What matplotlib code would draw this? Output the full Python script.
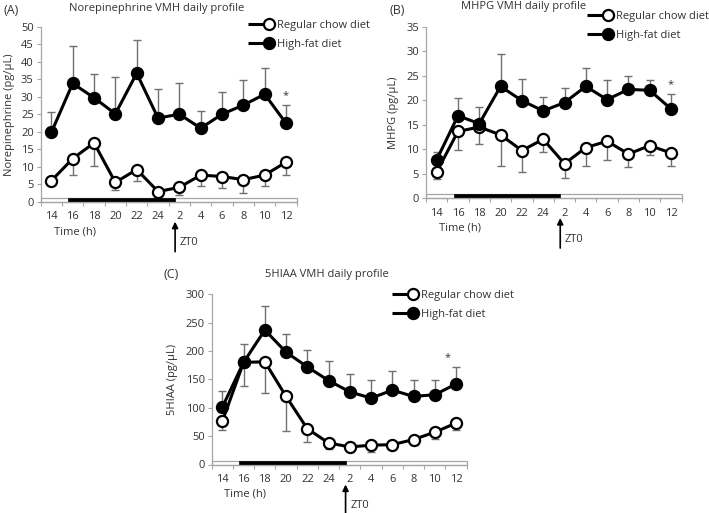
import numpy as np
import matplotlib
matplotlib.use('Agg')
import matplotlib.pyplot as plt
from matplotlib.lines import Line2D
from matplotlib.legend_handler import HandlerLine2D
from matplotlib.patches import Rectangle

plt.rcParams['font.family'] = ['Open Sans', 'DejaVu Sans']

# ---------------- data ----------------
time_labels = ['14', '16', '18', '20', '22', '24', '2', '4', '6', '8', '10', '12']

ne_chow = [6.0, 12.3, 16.8, 5.5, 9.2, 2.9, 4.1, 7.6, 7.2, 6.3, 7.6, 11.3]
ne_chow_err = [0.4, 4.6, 6.5, 2.1, 3.2, 0.8, 2.2, 3.1, 3.3, 3.9, 3.1, 3.7]
ne_hfd = [19.8, 33.8, 29.7, 25.1, 36.7, 23.9, 25.0, 21.0, 25.0, 27.6, 30.7, 22.4]
ne_hfd_err = [5.7, 10.8, 6.8, 10.6, 9.5, 8.2, 8.8, 4.8, 6.3, 7.1, 7.4, 5.1]

mhpg_chow = [5.3, 13.6, 14.5, 12.9, 9.7, 12.0, 7.0, 10.3, 11.6, 9.0, 10.7, 9.2]
mhpg_chow_err = [1.4, 3.7, 3.4, 6.4, 4.3, 2.7, 2.9, 3.7, 3.8, 2.7, 2.0, 2.7]
mhpg_hfd = [7.8, 16.8, 15.2, 22.8, 19.9, 17.8, 19.5, 22.8, 20.1, 22.2, 22.0, 18.2]
mhpg_hfd_err = [1.5, 3.7, 3.4, 6.6, 4.5, 2.9, 2.9, 3.7, 4.0, 2.8, 2.1, 3.0]

hiaa_chow = [76, 180, 181, 120, 63, 38, 31, 34, 35, 44, 57, 73]
hiaa_chow_err = [14.5, 41, 55, 61, 24, 10.5, 8, 12, 9, 9, 12, 13]
hiaa_hfd = [101, 180, 237, 198, 172, 148, 128, 117, 131, 120, 123, 142]
hiaa_hfd_err = [28, 32, 43, 32, 30, 34, 31, 32, 34, 29, 26, 29]

series_names = ['Regular chow diet', 'High-fat diet']
dark_start = 0.8     # dark phase start (category units)
zt0 = 5.8            # ZT0 position (category units)

# ---------------- style ----------------
W, H = 709, 513
FS = 8
AX_GRAY = '#a6a6a6'
TXT = '#333333'
ERR = '#707070'

fig = plt.figure(figsize=(W / 100, H / 100), dpi=100)


def fx(x):
    return x / W


def fy(y):
    return 1 - y / H


class EndMarkerHandler(HandlerLine2D):
    def create_artists(self, legend, orig_handle, xdescent, ydescent,
                       width, height, fontsize, trans):
        y = (height - ydescent) / 2
        ms = orig_handle.get_markersize()
        line = Line2D([-xdescent, -xdescent + width], [y, y],
                      color='black', lw=orig_handle.get_linewidth(),
                      solid_capstyle='butt')
        mk = Line2D([-xdescent + width - ms / 2], [y], ls='none', marker='o',
                    ms=ms, mfc=orig_handle.get_markerfacecolor(),
                    mec='black', mew=orig_handle.get_markeredgewidth())
        line.set_transform(trans)
        mk.set_transform(trans)
        return [line, mk]


def panel(box, chow, chow_err, hfd, hfd_err, ymax, ystep, ylabel, ylab_x,
          title, title_xy, letter, letter_xy, leg_xy, star_dx):
    l, t, r, b = box
    ax = fig.add_axes([fx(l), fy(b), fx(r - l), (b - t) / H])
    x = np.arange(len(time_labels))
    ax_h = b - t

    # error bars (chow down, HFD up)
    ax.errorbar(x, chow, yerr=[chow_err, np.zeros(len(chow))], fmt='none',
                ecolor=ERR, elinewidth=1.0, capsize=3, capthick=1.0, zorder=2)
    ax.errorbar(x, hfd, yerr=[np.zeros(len(hfd)), hfd_err], fmt='none',
                ecolor=ERR, elinewidth=1.0, capsize=3, capthick=1.0, zorder=2)
    h1, = ax.plot(x, chow, '-o', color='black', lw=2.2, ms=8, mfc='white',
                  mec='black', mew=1.6, zorder=3, clip_on=False)
    h2, = ax.plot(x, hfd, '-o', color='black', lw=2.2, ms=8, mfc='black',
                  mec='black', mew=1.6, zorder=4, clip_on=False)

    ax.set_xlim(-0.5, len(time_labels) - 0.5)
    ax.set_ylim(0, ymax)
    ax.set_yticks(np.arange(0, ymax + ystep / 2, ystep))
    ax.set_xticks(x)
    ax.set_xticklabels(time_labels)
    ax.set_xticks(np.arange(-0.5, len(time_labels)), minor=True)
    for s in ['top', 'right']:
        ax.spines[s].set_visible(False)
    for s in ['left', 'bottom']:
        ax.spines[s].set_color(AX_GRAY)
        ax.spines[s].set_linewidth(0.9)
    ax.tick_params(axis='x', which='major', length=0, pad=7,
                   labelsize=FS, labelcolor=TXT)
    ax.tick_params(axis='x', which='minor', length=3, width=0.8,
                   color=AX_GRAY, direction='out')
    ax.tick_params(axis='y', which='major', length=3, width=0.8,
                   color=AX_GRAY, pad=2, labelsize=FS, labelcolor=TXT)

    ax.set_ylabel(ylabel, fontsize=FS, color=TXT)
    ax.yaxis.set_label_coords((ylab_x - l) / (r - l), 0.5)

    # light / dark bar
    hb = 3.8 / ax_h
    tr = ax.get_xaxis_transform()
    ax.add_patch(Rectangle((-0.5, 0), len(time_labels), hb, transform=tr,
                           facecolor='white', edgecolor=AX_GRAY, lw=0.9,
                           clip_on=False, zorder=1))
    ax.add_patch(Rectangle((dark_start, 0), zt0 - dark_start, hb, transform=tr,
                           facecolor='black', edgecolor='black', lw=0.5,
                           clip_on=False, zorder=1.5))

    # ZT0 arrow
    ax.annotate('', xy=(zt0, -20 / ax_h), xytext=(zt0, -50 / ax_h),
                xycoords=tr, textcoords=tr,
                arrowprops=dict(arrowstyle='-|>', color='black', lw=1.2,
                                mutation_scale=9, shrinkA=0, shrinkB=0),
                annotation_clip=False)
    ax.text(zt0 + 0.22, -41 / ax_h, 'ZT0', transform=tr, fontsize=FS,
            color=TXT, ha='left', va='center')
    ax.text(0.1, -30 / ax_h, 'Time (h)', transform=tr, fontsize=FS,
            color=TXT, ha='left', va='center')

    # asterisk
    ax.annotate('*', xy=(len(time_labels) - 1, hfd[-1] + hfd_err[-1]),
                xytext=(star_dx, 3), textcoords='offset points',
                ha='center', va='bottom', fontsize=FS, color=TXT)

    fig.text(fx(title_xy[0]), fy(title_xy[1]), title, fontsize=FS,
             color=TXT, ha='center', va='center')
    fig.text(fx(letter_xy[0]), fy(letter_xy[1]), letter, fontsize=FS + 1,
             color=TXT, ha='left', va='center')

    leg = ax.legend([h1, h2], series_names, loc='upper left',
                    bbox_to_anchor=(fx(leg_xy[0]), fy(leg_xy[1])),
                    bbox_transform=fig.transFigure, frameon=False,
                    borderpad=0, borderaxespad=0, handlelength=2.4,
                    handletextpad=0.2, labelspacing=0.75, fontsize=FS,
                    handler_map={Line2D: EndMarkerHandler()})
    for t_ in leg.get_texts():
        t_.set_color(TXT)
    return ax


panel((40.7, 26.7, 296.7, 201.7), ne_chow, ne_chow_err, ne_hfd, ne_hfd_err,
      50, 5, 'Norepinephrine (pg/\u03bcL)', 15,
      'Norepinephrine VMH daily profile', (157, 8), '(A)', (3, 10),
      (248, 20), 0)
panel((426, 26.7, 681.7, 198), mhpg_chow, mhpg_chow_err, mhpg_hfd, mhpg_hfd_err,
      35, 5, 'MHPG (pg/\u03bcL)', 399,
      'MHPG VMH daily profile', (523.5, 7), '(B)', (389, 10),
      (587, 11), 0)
panel((211.7, 294.3, 466.7, 464.5), hiaa_chow, hiaa_chow_err, hiaa_hfd,
      hiaa_hfd_err, 300, 50, '5HIAA (pg/\u03bcL)', 178,
      '5HIAA VMH daily profile', (327, 275), '(C)', (164, 275),
      (392, 290), -6)

fig.savefig('out.png', dpi=100)
